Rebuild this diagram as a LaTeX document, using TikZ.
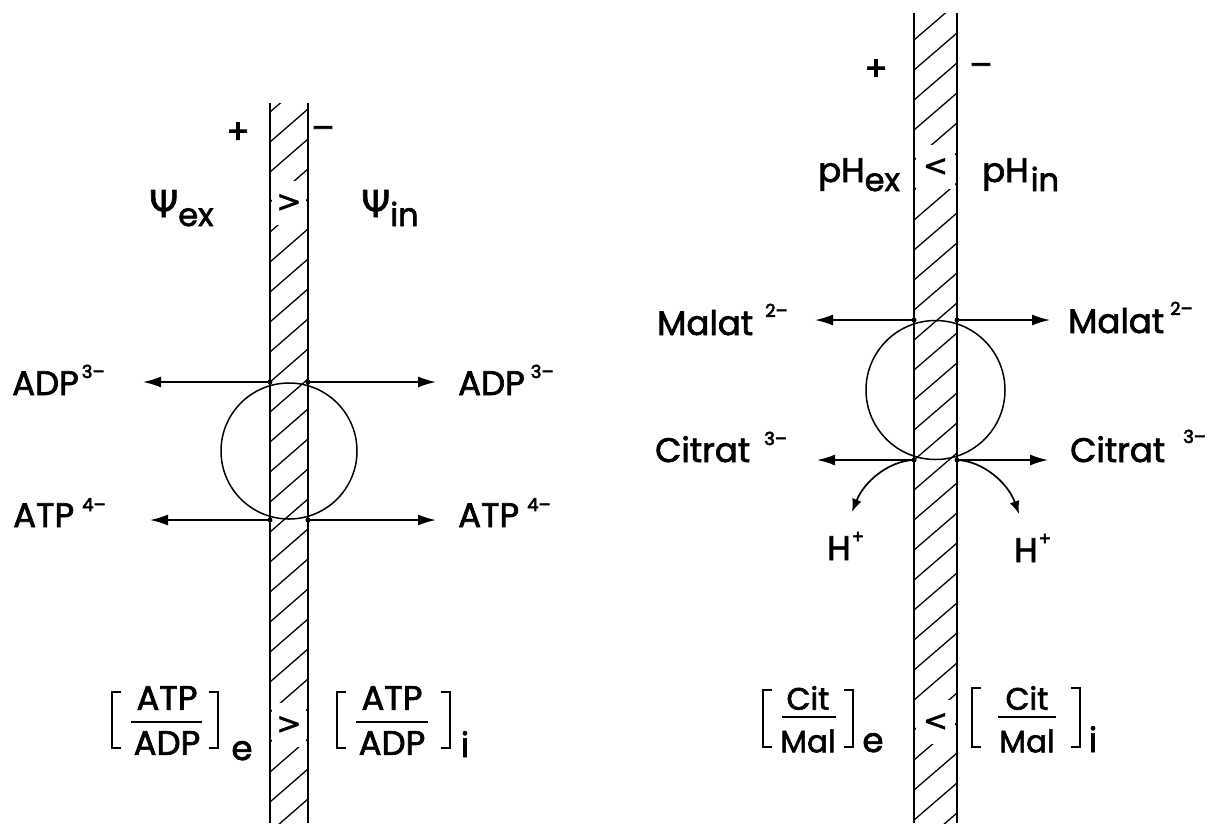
\documentclass[tikz,border=0pt]{standalone}
\usepackage{fontspec}
\setmainfont{Poppins}[FakeBold=2]
\newfontfamily\grk{DejaVu Sans}[FakeBold=1.6]
\usetikzlibrary{arrows.meta}
\newcommand\supfont{\fontsize{18}{18}\selectfont\addfontfeature{FakeBold=3.2}}
\newcommand\subfont{\fontsize{32}{34}\selectfont}
\newcommand\psifont{\grk\fontsize{37}{40}\selectfont}
\begin{document}
\begin{tikzpicture}[x=1pt,y=-1pt,
  mem/.style={line width=1.8pt},
  hatch/.style={line width=1.3pt},
  arr/.style={line width=1.7pt,-{Latex[length=18pt,width=11pt]}},
  curarr/.style={line width=1.7pt,-{Latex[length=13pt,width=10pt]}},
  lbl/.style={font=\fontsize{34}{40}\selectfont, inner sep=0pt},
  sym/.style={font=\grk\fontsize{30}{36}\selectfont, fill=white, minimum width=34pt, minimum height=44pt, inner sep=0pt},
  dot/.style={circle, fill, inner sep=0pt, minimum size=5pt},
  ring/.style={draw, circle, line width=1.5pt, inner sep=0pt},
  brk/.style={line width=2.6pt},
  fr/.style={line width=1.8pt}]
\useasboundingbox (0,0) rectangle (1220,823);

% ---------------- left membrane ----------------
\begin{scope}
  \clip (270,103) rectangle (308,823);
  \foreach \k in {0,...,25} \draw[hatch] (270,{112+30*\k}) -- ++(38,-33);
\end{scope}
\node[sym] (gtA) at (289,203) {>};
\node[sym] (gtB) at (289,725) {>};
\draw[mem] (270,103) -- (270,823);
\draw[mem] (308,103) -- (308,823);

\node[lbl] (plusL) at (238,133) {+};
\node[lbl] (minusL) at (323,133) {–};
\node[lbl, anchor=base west] (psiex) at (149,217) {{\psifont Ψ}\raisebox{-9pt}{\subfont ex}};
\node[lbl, anchor=base west] (psiin) at (361,217) {{\psifont Ψ}\raisebox{-9pt}{\subfont in}};

\node[ring, minimum size=136pt] (carrL) at (289,451) {};
\coordinate (a1) at (270,382); \coordinate (a2) at (308,382);
\coordinate (b1) at (270,520); \coordinate (b2) at (308,520);
\coordinate (adpLtip) at (143,382); \coordinate (adpRtip) at (436,382);
\coordinate (atpLtip) at (150,520); \coordinate (atpRtip) at (436,520);
\draw[arr] (a1) -- (adpLtip);
\draw[arr] (a2) -- (adpRtip);
\draw[arr] (b1) -- (atpLtip);
\draw[arr] (b2) -- (atpRtip);
\foreach \p in {a1,a2,b1,b2} \node[dot] at (\p) {};

\node[lbl, anchor=base west] (adpL) at (12,395) {ADP\hspace{3pt}\raisebox{17pt}{\supfont 3–}};
\node[lbl, anchor=base west] (adpR) at (458,395) {ADP\hspace{6pt}\raisebox{17pt}{\supfont 3–}};
\node[lbl, anchor=base west] (atpL) at (13,527) {ATP\hspace{8pt}\raisebox{16pt}{\supfont 4–}};
\node[lbl, anchor=base west] (atpR) at (458,527) {ATP\hspace{8pt}\raisebox{16pt}{\supfont 4–}};

% bottom left ratios
\node[lbl] (atpN1) at (167,698) {ATP};
\node[lbl] (adpD1) at (167,743) {ADP};
\draw[fr] (131,722) -- (202,722);
\draw[brk] (121,692) -- (112,692) -- (112,748) -- (121,748);
\draw[brk] (209,692) -- (218,692) -- (218,748) -- (209,748);
\node[lbl, anchor=base] (subE1) at (242,760) {e};

\node[lbl] (atpN2) at (392,698) {ATP};
\node[lbl] (adpD2) at (392,743) {ADP};
\draw[fr] (356,722) -- (428,722);
\draw[brk] (346,692) -- (337,692) -- (337,748) -- (346,748);
\draw[brk] (441,692) -- (450,692) -- (450,748) -- (441,748);
\node[lbl, anchor=base] (subI1) at (465,757) {i};

% ---------------- right membrane ----------------
\begin{scope}
  \clip (914,13) rectangle (957,823);
  \foreach \k in {0,...,27} \draw[hatch] (914,{40+30*\k}) -- ++(43,-37);
\end{scope}
\node[sym, minimum width=39pt] (ltA) at (935.5,167) {<};
\node[sym, minimum width=39pt] (ltB) at (935.5,722) {<};
\draw[mem] (914,13) -- (914,823);
\draw[mem] (957,13) -- (957,823);

\node[lbl] (plusR) at (876,70) {+};
\node[lbl] (minusR) at (981,70) {–};
\node[lbl, anchor=base west] (phex) at (818,182) {pH\raisebox{-9pt}{\subfont ex}};
\node[lbl, anchor=base west] (phin) at (982,182) {pH\hspace{2pt}\raisebox{-9pt}{\subfont in}};

\node[ring, minimum size=139pt] (carrR) at (935.5,390) {};
\coordinate (m1) at (914,320); \coordinate (m2) at (957,320);
\coordinate (c1) at (914,460); \coordinate (c2) at (957,460);
\coordinate (malLtip) at (815,320); \coordinate (malRtip) at (1050,320);
\coordinate (citLtip) at (817,460); \coordinate (citRtip) at (1048,460);
\coordinate (hLtip) at (852,512); \coordinate (hRtip) at (1019,514);
\draw[arr] (m1) -- (malLtip);
\draw[arr] (m2) -- (malRtip);
\draw[arr] (c1) -- (citLtip);
\draw[arr] (c2) -- (citRtip);
\draw[curarr] (c1) .. controls (888,461) and (864,482) .. (hLtip);
\draw[curarr] (c2) .. controls (983,461) and (1008,483) .. (hRtip);
\foreach \p in {m1,m2,c1,c2} \node[dot] at (\p) {};

\node[lbl, anchor=base west] (malL) at (657,335) {Malat\hspace{12pt}\raisebox{18pt}{\supfont 2–}};
\node[lbl, anchor=base west] (malR) at (1068,333) {Malat\hspace{6pt}\raisebox{18pt}{\supfont 2–}};
\node[lbl, anchor=base west] (citL) at (655,462) {Citrat\hspace{14pt}\raisebox{17pt}{\supfont 3–}};
\node[lbl, anchor=base west] (citR) at (1070,462) {Citrat\hspace{18pt}\raisebox{19pt}{\supfont 3–}};
\node[lbl, anchor=base west] (hL) at (827,560) {H\hspace{1pt}\raisebox{17pt}{\supfont +}};
\node[lbl, anchor=base west] (hR) at (1014,562) {H\hspace{1pt}\raisebox{17pt}{\supfont +}};

% bottom right ratios
\node[lbl, font=\fontsize{31}{36}\selectfont] (citN1) at (808,698) {Cit};
\node[lbl, font=\fontsize{31}{36}\selectfont] (malD1) at (808,741) {Mal};
\draw[fr] (782,717) -- (836,717);
\draw[brk] (772,690) -- (763,690) -- (763,747) -- (772,747);
\draw[brk] (844,690) -- (853,690) -- (853,747) -- (844,747);
\node[lbl, anchor=base] (subE2) at (873,752) {e};

\node[lbl, font=\fontsize{31}{36}\selectfont] (citN2) at (1027,698) {Cit};
\node[lbl, font=\fontsize{31}{36}\selectfont] (malD2) at (1027,741) {Mal};
\draw[fr] (998,717) -- (1056,717);
\draw[brk] (981,688) -- (972,688) -- (972,747) -- (981,747);
\draw[brk] (1071,688) -- (1080,688) -- (1080,747) -- (1071,747);
\node[lbl, anchor=base] (subI2) at (1093,752) {i};
\end{tikzpicture}
\end{document}
